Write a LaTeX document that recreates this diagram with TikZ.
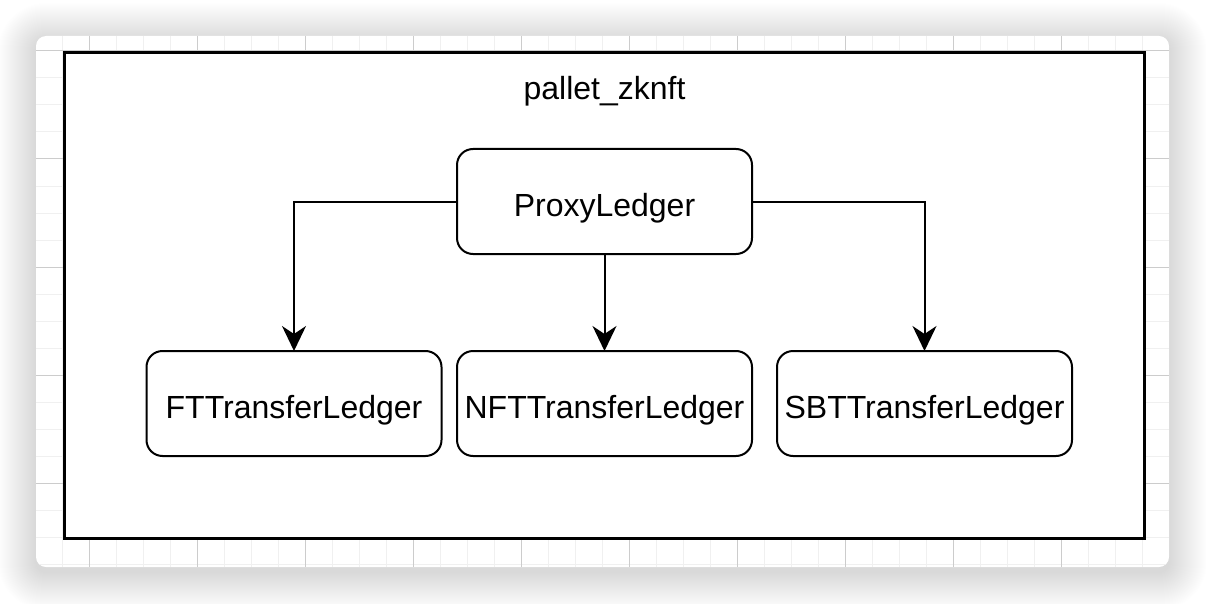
\documentclass[tikz,border=0pt]{standalone}
\usepackage{fontspec}
\setmainfont{Liberation Sans}
\usetikzlibrary{arrows.meta}
\tikzset{
  ledger/.style={draw=black, line width=2pt, rounded corners=16pt, fill=white,
    minimum width=295pt, minimum height=105pt, inner sep=0pt, outer sep=0pt,
    text height=29pt, text depth=0pt,
    font=\fontsize{32pt}{38pt}\selectfont},
  link/.style={draw=black, line width=2pt,
    -{Stealth[length=25pt, width=24pt, inset=8pt]}},
  minorgrid/.style={draw=black!6, line width=1pt},
  majorgrid/.style={draw=black!20, line width=1pt},
}
\begin{document}
\begin{tikzpicture}[x=1pt,y=-1pt]
\useasboundingbox (0,0) rectangle (1206,604);
\fill[white] (0,0) rectangle (1206,604);
% shadow
\foreach \i in {1,...,38}{
  \pgfmathsetmacro\r{10+\i}
  \fill[black, opacity=0.005, rounded corners=\r pt] (36-\i,41-\i) rectangle (1169+\i,572+\i);
}
% card
\fill[white, rounded corners=10pt] (36,36) rectangle (1169,567);
\begin{scope}
  \clip[rounded corners=10pt] (36,36) rectangle (1169,567);
  \foreach \k in {1,...,43}{ \draw[minorgrid] (8.3+27*\k,36) -- (8.3+27*\k,567); }
  \foreach \k in {1,...,20}{ \draw[minorgrid] (36,24+27*\k) -- (1169,24+27*\k); }
  \foreach \k in {0,...,10}{ \draw[majorgrid] (89.3+108*\k,36) -- (89.3+108*\k,567); }
  \foreach \k in {0,...,4}{ \draw[majorgrid] (36,51+108*\k) -- (1169,51+108*\k); }
\end{scope}
% frame
\fill[white] (64.5,53) rectangle (1144.5,538.5);
\draw[black, line width=3pt] (64.5,53) rectangle (1144.5,538.5);
\node[font=\fontsize{32pt}{38pt}\selectfont, inner sep=0pt, anchor=base] (title) at (604.5,100) {pallet\_zknft};
% nodes
\node[ledger] (proxy) at (604.5,201.5) {ProxyLedger};
\node[ledger] (ft) at (294,403.5) {FTTransferLedger};
\node[ledger] (nft) at (604.5,403.5) {NFTTransferLedger};
\node[ledger] (sbt) at (924.5,403.5) {SBTTransferLedger};
% connectors
\draw[link] (proxy.west) -| (ft.north);
\draw[link] (proxy.south) -- (nft.north);
\draw[link] (proxy.east) -| (sbt.north);
\end{tikzpicture}
\end{document}
